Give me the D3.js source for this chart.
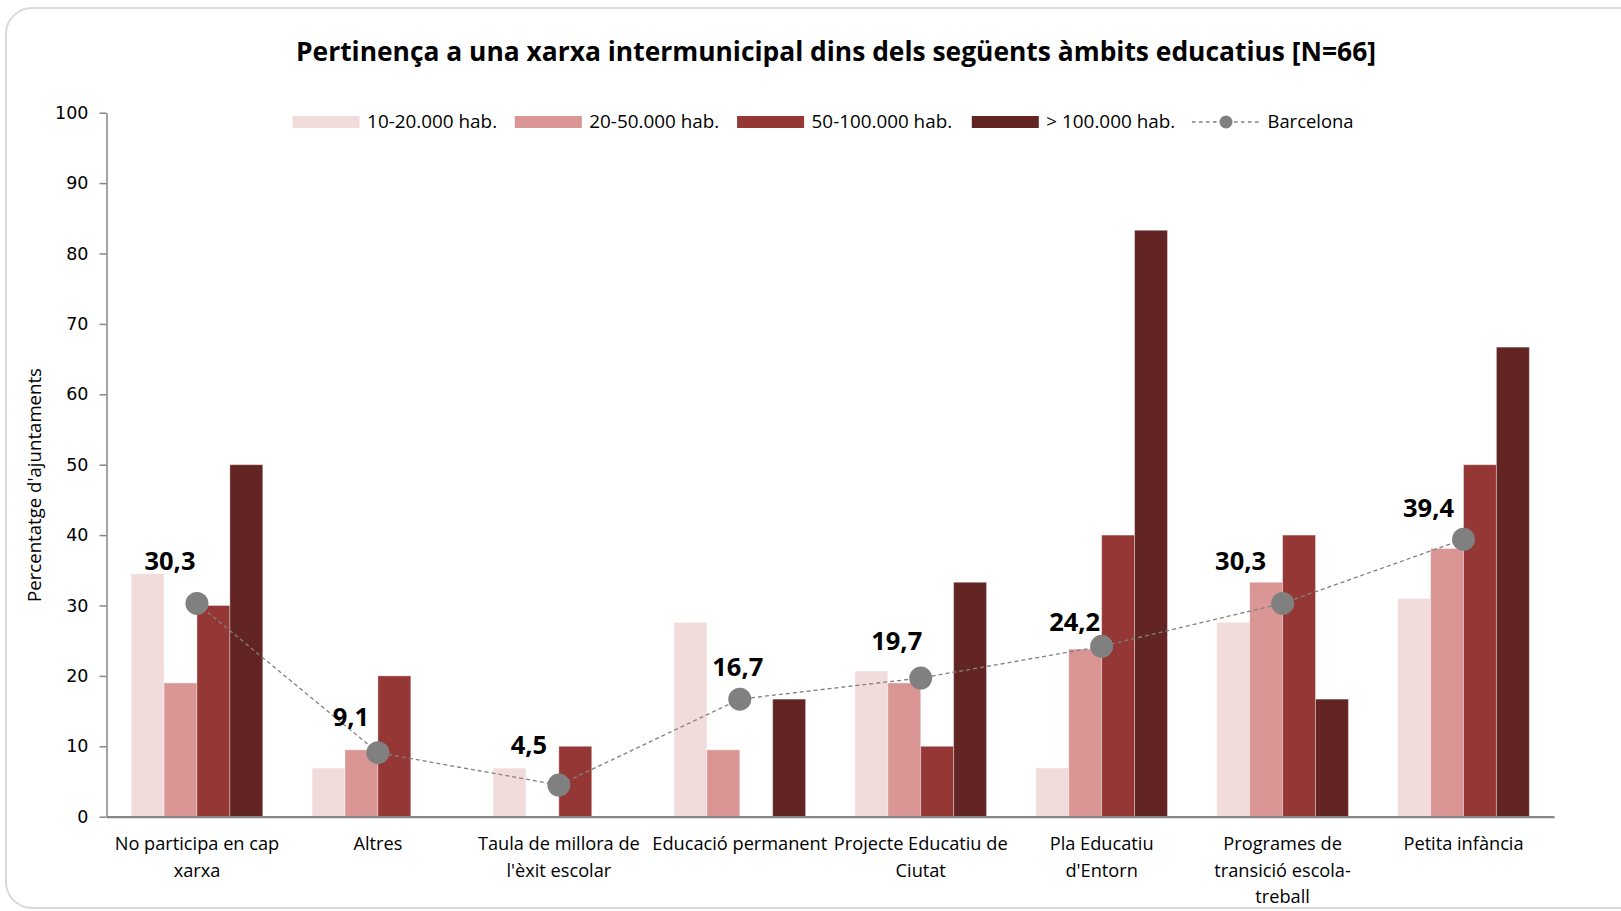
<!DOCTYPE html>
<html>
<head>
<meta charset="utf-8">
<script src="https://cdn.jsdelivr.net/npm/d3@7"></script>
<style>
  html, body { margin: 0; padding: 0; background: #fff; }
  svg { display: block; }
</style>
</head>
<body>
<svg id="chart" width="1621" height="911"></svg>
<script>
// Categories (line breaks as in the axis labels)
const categories = [
  "No participa en cap\nxarxa",
  "Altres",
  "Taula de millora de\nl'èxit escolar",
  "Educació permanent",
  "Projecte Educatiu de\nCiutat",
  "Pla Educatiu\nd'Entorn",
  "Programes de\ntransició escola-\ntreball",
  "Petita infància"
];

const seriesNames = ["10-20.000 hab.", "20-50.000 hab.", "50-100.000 hab.", "> 100.000 hab."];

// Percentage of municipalities per population group
const hab10_20  = [34.5, 6.9, 6.9, 27.6, 20.7, 6.9, 27.6, 31.0];
const hab20_50  = [19.0, 9.5, 0.0, 9.5, 19.0, 23.8, 33.3, 38.1];
const hab50_100 = [30.0, 20.0, 10.0, 0.0, 10.0, 40.0, 40.0, 50.0];
const hab100    = [50.0, 0.0, 0.0, 16.7, 33.3, 83.3, 16.7, 66.7];

// Province of Barcelona total
const barcelona = [30.3, 9.1, 4.5, 16.7, 19.7, 24.2, 30.3, 39.4];

const yTicks = [0, 10, 20, 30, 40, 50, 60, 70, 80, 90, 100];

const seriesColors = ["#f2dcdb", "#d99694", "#953735", "#632523"];

// Hand-placed offsets of the Barcelona value labels (px, relative to the marker)
const labelDx = [-27, -27, -30, -2, -24, -27, -42, -35];
const labelDy = [-43, -36, -40, -32, -37, -25, -43, -32];

const series = [hab10_20, hab20_50, hab50_100, hab100];

const svg = d3.select("#chart");

// Chart frame
svg.append("rect")
  .attr("x", 6).attr("y", 8)
  .attr("width", 1640).attr("height", 900)
  .attr("rx", 26).attr("ry", 26)
  .attr("fill", "#fff")
  .attr("stroke", "#d9d9d9")
  .attr("stroke-width", 2);

const plot = { left: 106.5, right: 1554, top: 112.7, bottom: 816.7 };

const x = d3.scaleBand()
  .domain(d3.range(categories.length))
  .range([plot.left, plot.right])
  .paddingInner(0)
  .paddingOuter(0);

const barW = x.bandwidth() / 5.5; // gap width 150%
const xInner = d3.scaleBand()
  .domain(d3.range(series.length))
  .range([0, barW * 4]);

const y = d3.scaleLinear().domain([0, 100]).range([plot.bottom, plot.top]);

// Title
svg.append("text")
  .attr("x", 836).attr("y", 61)
  .attr("text-anchor", "middle")
  .attr("font-family", "'Open Sans', sans-serif")
  .attr("font-weight", "bold")
  .attr("font-size", 26.5)
  .attr("textLength", 1080)
  .attr("lengthAdjust", "spacingAndGlyphs")
  .attr("fill", "#000")
  .text("Pertinença a una xarxa intermunicipal dins dels següents àmbits educatius [N=66]");

// Bars
const groups = svg.append("g").selectAll("g")
  .data(series)
  .join("g")
  .attr("fill", (d, i) => seriesColors[i]);

groups.selectAll("rect")
  .data((d, si) => d.map((v, ci) => ({ v, ci, si })))
  .join("rect")
  .attr("x", d => x(d.ci) + (x.bandwidth() - barW * 4) / 2 + xInner(d.si))
  .attr("y", d => y(d.v))
  .attr("width", xInner.bandwidth())
  .attr("height", d => y(0) - y(d.v))
  .attr("stroke", "rgba(255,255,255,0.35)")
  .attr("stroke-width", d => d.v > 0 ? 1 : 0);

// Y axis
const yAxis = d3.axisLeft(y).tickValues(yTicks).tickSize(7).tickSizeOuter(0).tickPadding(11);
const gy = svg.append("g")
  .attr("transform", `translate(${plot.left},0)`)
  .call(yAxis);
gy.select(".domain").attr("stroke", "#868686").attr("stroke-width", 1.5);
gy.selectAll(".tick line").attr("stroke", "#868686").attr("stroke-width", 1.5);
gy.selectAll(".tick text")
  .attr("font-family", "'DejaVu Sans', Verdana, sans-serif")
  .attr("font-size", 17.5)
  .attr("fill", "#000");

// X axis
const xAxis = d3.axisBottom(x).tickSize(0).tickFormat("");
const gx = svg.append("g")
  .attr("transform", `translate(0,${plot.bottom})`)
  .call(xAxis);
gx.select(".domain").attr("stroke", "#868686").attr("stroke-width", 2.2);

// Category labels
const catLabels = svg.append("g")
  .attr("font-family", "'Open Sans', sans-serif")
  .attr("font-size", 18.2)
  .attr("fill", "#000")
  .attr("text-anchor", "middle");

catLabels.selectAll("text")
  .data(categories)
  .join("text")
  .attr("x", (d, i) => x(i) + x.bandwidth() / 2)
  .attr("y", 850)
  .each(function (d) {
    const t = d3.select(this);
    d.split("\n").forEach((line, li) => {
      t.append("tspan")
        .attr("x", t.attr("x"))
        .attr("dy", li === 0 ? 0 : 26.5)
        .text(line);
    });
  });

// Y axis title
svg.append("text")
  .attr("transform", `translate(41,485) rotate(-90)`)
  .attr("text-anchor", "middle")
  .attr("font-family", "'Open Sans', sans-serif")
  .attr("font-size", 17.5)
  .attr("textLength", 234)
  .attr("lengthAdjust", "spacingAndGlyphs")
  .attr("fill", "#000")
  .text("Percentatge d'ajuntaments");

// Barcelona line
const cx = i => x(i) + x.bandwidth() / 2;
const line = d3.line()
  .x((d, i) => cx(i))
  .y(d => y(d));

svg.append("path")
  .datum(barcelona)
  .attr("d", line)
  .attr("fill", "none")
  .attr("stroke", "#808080")
  .attr("stroke-width", 1.3)
  .attr("stroke-dasharray", "4,3");

svg.append("g").selectAll("circle")
  .data(barcelona)
  .join("circle")
  .attr("cx", (d, i) => cx(i))
  .attr("cy", d => y(d))
  .attr("r", 11.5)
  .attr("fill", "#808080");

// Barcelona value labels
const fmt = v => d3.format(".1f")(v).replace(".", ",");
svg.append("g").selectAll("text")
  .data(barcelona)
  .join("text")
  .attr("x", (d, i) => cx(i) + labelDx[i])
  .attr("y", (d, i) => y(d) + labelDy[i])
  .attr("dy", "0.36em")
  .attr("text-anchor", "middle")
  .attr("font-family", "'Open Sans', sans-serif")
  .attr("font-weight", "bold")
  .attr("font-size", 25.5)
  .attr("fill", "#000")
  .text(fmt);

// Legend
const legendY = 122;
const swatchX = [292.6, 514.8, 737.1, 971.8];
const legendTextW = [130, 130, 140.5, 129];
const legend = svg.append("g")
  .attr("font-family", "'Open Sans', sans-serif")
  .attr("font-size", 18.5)
  .attr("fill", "#000");

seriesNames.forEach((name, i) => {
  legend.append("rect")
    .attr("x", swatchX[i]).attr("y", legendY - 6)
    .attr("width", 67).attr("height", 12)
    .attr("fill", seriesColors[i]);
  legend.append("text")
    .attr("x", swatchX[i] + 74.5).attr("y", legendY)
    .attr("dy", "0.35em")
    .attr("textLength", legendTextW[i])
    .attr("lengthAdjust", "spacingAndGlyphs")
    .text(name);
});

legend.append("line")
  .attr("x1", 1192).attr("x2", 1259)
  .attr("y1", legendY).attr("y2", legendY)
  .attr("stroke", "#808080")
  .attr("stroke-width", 1.3)
  .attr("stroke-dasharray", "3.5,3.5");
legend.append("circle")
  .attr("cx", 1226).attr("cy", legendY)
  .attr("r", 6.5)
  .attr("fill", "#808080");
legend.append("text")
  .attr("x", 1267.5).attr("y", legendY)
  .attr("dy", "0.35em")
  .attr("textLength", 86)
  .attr("lengthAdjust", "spacingAndGlyphs")
  .text("Barcelona");
</script>
</body>
</html>
